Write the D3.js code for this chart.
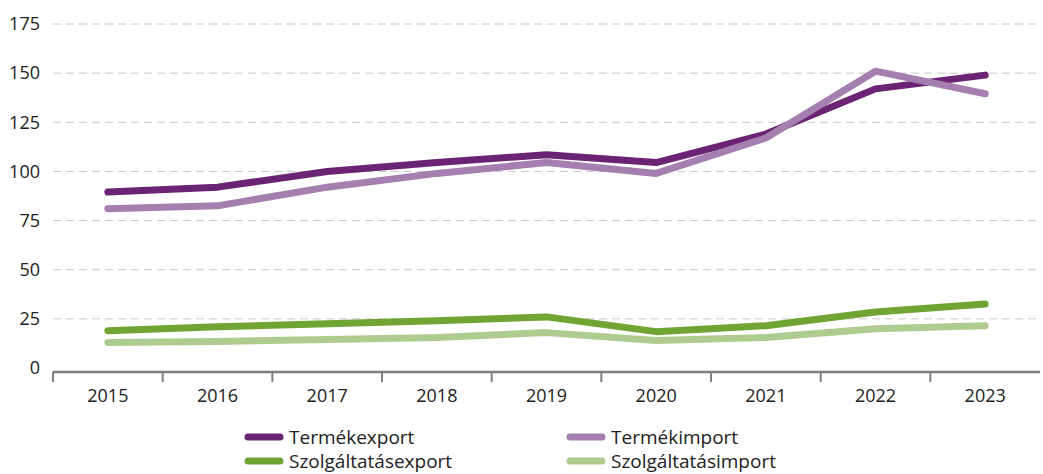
<!DOCTYPE html>
<html>
<head>
  <meta charset="utf-8">
  <script src="https://d3js.org/d3.v7.min.js"></script>
  <style>
    body { margin: 0; font-family: 'Open Sans', sans-serif; background: #fff; }
  </style>
</head>
<body>
  <div id="chart"></div>
  <script>
    // data
    var years = ["2015", "2016", "2017", "2018", "2019", "2020", "2021", "2022", "2023"];
    var termekExport = [89.5, 92, 100, 104.5, 108.5, 104.5, 119, 142, 149];
    var termekImport = [81, 82.5, 92, 99, 104.5, 99, 117, 151, 139.5];
    var szolgExport = [19, 21, 22.5, 24, 26, 18.5, 21.5, 28.5, 32.5];
    var szolgImport = [13, 13.5, 14.5, 15.5, 18, 14, 15.5, 20, 21.5];
    var yTicks = [0, 25, 50, 75, 100, 125, 150, 175];

    var series = [
      { name: "Termékexport", values: termekExport, color: "#6b2474" },
      { name: "Termékimport", values: termekImport, color: "#a47fb0" },
      { name: "Szolgáltatásexport", values: szolgExport, color: "#71a533" },
      { name: "Szolgáltatásimport", values: szolgImport, color: "#b0cb8f" }
    ];

    var W = 1043, H = 474;
    var svg = d3.select("#chart").append("svg")
      .attr("width", W).attr("height", H);

    var x = d3.scaleBand().domain(years).range([53, 1040]);
    var y = d3.scaleLinear().domain([0, 175]).range([368, 24]);

    // grid
    svg.append("g").selectAll("line")
      .data(yTicks.filter(function (d) { return d > 0; }))
      .enter().append("line")
      .attr("x1", 53).attr("x2", 1040)
      .attr("y1", function (d) { return y(d); })
      .attr("y2", function (d) { return y(d); })
      .attr("stroke", "#c8c8c8")
      .attr("stroke-width", 1)
      .attr("stroke-dasharray", "8,5");

    // y labels
    svg.append("g").selectAll("text")
      .data(yTicks).enter().append("text")
      .attr("x", 40)
      .attr("y", function (d) { return y(d); })
      .attr("dy", "0.35em")
      .attr("text-anchor", "end")
      .attr("font-size", 18)
      .attr("fill", "#222")
      .text(function (d) { return d; });

    // x axis
    var xAxis = svg.append("g")
      .attr("transform", "translate(0,372)")
      .call(d3.axisBottom(x).tickSize(0).tickSizeOuter(0));
    xAxis.select(".domain").remove();
    xAxis.append("line")
      .attr("x1", 53).attr("x2", 1040)
      .attr("stroke", "#7f7f7f").attr("stroke-width", 2.5);
    xAxis.selectAll(".sep")
      .data(years).enter().append("line")
      .attr("class", "sep")
      .attr("x1", function (d) { return x(d); })
      .attr("x2", function (d) { return x(d); })
      .attr("y1", 0).attr("y2", 10)
      .attr("stroke", "#7f7f7f").attr("stroke-width", 2);
    xAxis.selectAll(".tick text")
      .attr("y", 17)
      .attr("dy", "0.71em")
      .attr("font-size", 18)
      .attr("font-family", "'Open Sans', sans-serif")
      .attr("fill", "#222");

    // lines
    var line = d3.line()
      .x(function (d, i) { return x(years[i]) + x.bandwidth() / 2; })
      .y(function (d) { return y(d); });

    svg.append("g").selectAll("path")
      .data(series).enter().append("path")
      .attr("d", function (d) { return line(d.values); })
      .attr("fill", "none")
      .attr("stroke", function (d) { return d.color; })
      .attr("stroke-width", 7)
      .attr("stroke-linecap", "round")
      .attr("stroke-linejoin", "round");

    // legend
    var legendPos = [[248, 437], [570, 437], [248, 461], [570, 461]];
    var lg = svg.append("g").selectAll("g")
      .data(series).enter().append("g")
      .attr("transform", function (d, i) { return "translate(" + legendPos[i][0] + "," + legendPos[i][1] + ")"; });
    lg.append("line")
      .attr("x1", 0).attr("x2", 32)
      .attr("stroke", function (d) { return d.color; })
      .attr("stroke-width", 7)
      .attr("stroke-linecap", "round");
    lg.append("text")
      .attr("x", 41)
      .attr("dy", "0.35em")
      .attr("font-size", 19)
      .attr("fill", "#222")
      .text(function (d) { return d.name; });
  </script>
</body>
</html>
